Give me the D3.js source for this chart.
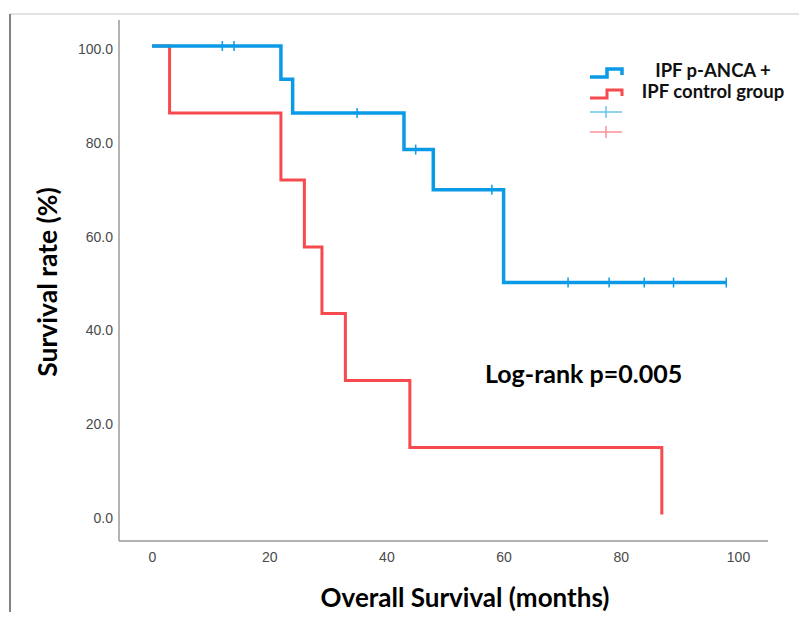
<!DOCTYPE html>
<html lang="en">
<head>
<meta charset="UTF-8">
<title>Overall survival</title>
<script src="https://d3js.org/d3.v7.min.js"></script>
<style>
  body { margin: 0; background: #fff; }
  text { font-family: Lato, "Open Sans", sans-serif; }
  .tick text { font-family: "Liberation Sans", Arial, sans-serif; fill: #4a4a4a; font-size: 14px; }
</style>
</head>
<body>
<svg id="km" width="799" height="619"></svg>
<script>
  // p-ANCA+ group: step times and survival after each step
  const ancaTime = [0, 22, 24, 43, 48, 60, 98];
  const ancaSurv = [100, 92.9, 85.7, 77.9, 69.3, 49.5, 49.5];
  const ancaCensor = [12, 14, 35, 45, 58, 71, 78, 84, 89, 98];

  // control group
  const ctrlTime = [0, 3, 22, 26, 29, 33, 44, 87];
  const ctrlSurv = [100, 85.7, 71.4, 57.1, 42.9, 28.6, 14.3, 0];

  const xTicks = [0, 20, 40, 60, 80, 100];
  const yTicks = [0, 20, 40, 60, 80, 100];
  const legendLabels = ["IPF p-ANCA +", "IPF control group"];

  const blue = "#0b9be6";
  const red = "#f74a4f";

  const svg = d3.select("#km");

  const x = d3.scaleLinear().domain([0, 100]).range([152, 738]);
  const y = d3.scaleLinear().domain([0, 100]).range([514.5, 46]);

  // outer frame
  svg.append("line").attr("x1", 10).attr("x2", 799).attr("y1", 14).attr("y2", 14)
    .attr("stroke", "#c8c8c8").attr("stroke-width", 1.2);
  svg.append("line").attr("x1", 10).attr("x2", 10).attr("y1", 14).attr("y2", 612)
    .attr("stroke", "#5a5a5a").attr("stroke-width", 1.5);

  // axis lines
  svg.append("line").attr("x1", 119).attr("x2", 119).attr("y1", 20).attr("y2", 541)
    .attr("stroke", "#9a9a9a").attr("stroke-width", 1.5);
  svg.append("line").attr("x1", 119).attr("x2", 768).attr("y1", 541).attr("y2", 541)
    .attr("stroke", "#9a9a9a").attr("stroke-width", 1.5);

  const yAxis = svg.append("g").attr("transform", "translate(119,0)")
    .call(d3.axisLeft(y).tickValues(yTicks).tickSize(0).tickPadding(6).tickFormat(d3.format(".1f")));
  yAxis.select(".domain").remove();
  yAxis.selectAll("text").attr("dy", "0.55em");

  const xAxis = svg.append("g").attr("transform", "translate(0,541)")
    .call(d3.axisBottom(x).tickValues(xTicks).tickSize(0).tickPadding(11));
  xAxis.select(".domain").remove();

  const step = d3.line()
    .x(d => x(d[0]))
    .y(d => y(d[1]))
    .curve(d3.curveStepAfter);

  svg.append("path").datum(d3.zip(ctrlTime, ctrlSurv))
    .attr("d", step).attr("fill", "none").attr("stroke", red).attr("stroke-width", 3);
  svg.append("path").datum(d3.zip(ancaTime, ancaSurv))
    .attr("d", step).attr("fill", "none").attr("stroke", blue).attr("stroke-width", 3.5);

  // censor marks
  const survAt = t => ancaSurv[d3.bisectRight(ancaTime, t) - 1];
  svg.selectAll(".censor").data(ancaCensor).join("line")
    .attr("class", "censor")
    .attr("x1", d => x(d)).attr("x2", d => x(d))
    .attr("y1", d => y(survAt(d)) - 5).attr("y2", d => y(survAt(d)) + 5)
    .attr("stroke", blue).attr("stroke-width", 1.5);

  // legend
  const lg = svg.append("g");
  [blue, red].forEach((c, i) => {
    const oy = i * 21;
    lg.append("path")
      .attr("d", `M590,${77 + oy}H607V${69 + oy}H622V${75 + oy}`)
      .attr("fill", "none").attr("stroke", c).attr("stroke-width", i ? 3 : 3.5);
    lg.append("text").attr("x", 713).attr("y", 77 + oy)
      .attr("text-anchor", "middle").attr("font-weight", "bold").attr("font-size", 18.5)
      .attr("fill", "#111").text(legendLabels[i]);
  });
  [blue, red].forEach((c, i) => {
    const cy = 112 + i * 20;
    lg.append("path").attr("d", `M590,${cy}H622M606,${cy - 6}V${cy + 6}`)
      .attr("stroke", c).attr("stroke-width", 1.5).attr("opacity", 0.6);
  });

  // titles
  svg.append("text").attr("transform", "translate(57,282) rotate(-90)")
    .attr("text-anchor", "middle").attr("font-weight", "bold").attr("font-size", 26.5)
    .attr("fill", "#000").text("Survival rate (%)");
  svg.append("text").attr("x", 465).attr("y", 607)
    .attr("text-anchor", "middle").attr("font-weight", "bold").attr("font-size", 26)
    .attr("fill", "#000").text("Overall Survival (months)");
  svg.append("text").attr("x", 485).attr("y", 383)
    .attr("font-weight", "bold").attr("font-size", 25)
    .attr("fill", "#000").text("Log-rank p=0.005");
</script>
</body>
</html>
